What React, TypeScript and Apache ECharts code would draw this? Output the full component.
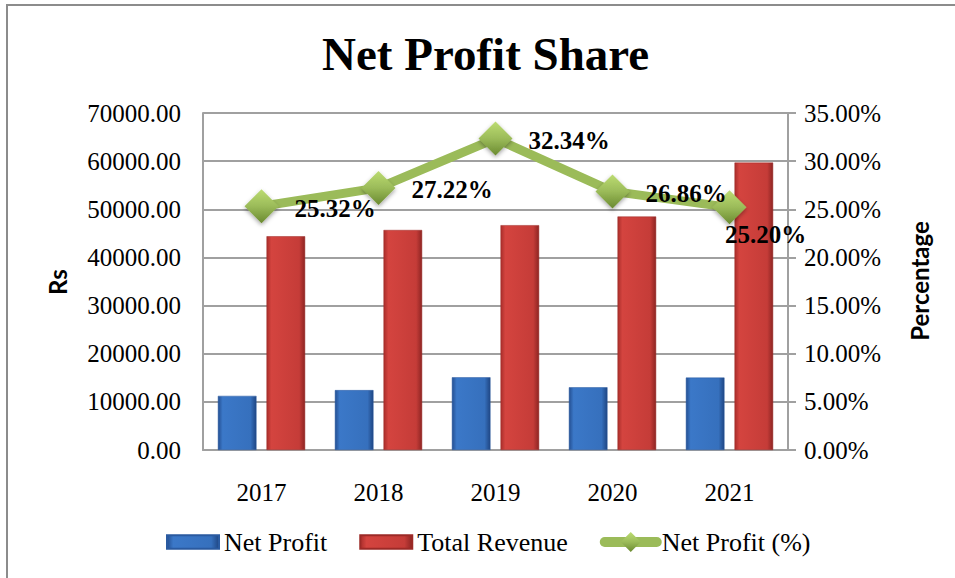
import React, { useEffect, useRef } from "react";
import * as echarts from "echarts";

const years = ["2017", "2018", "2019", "2020", "2021"];
const netProfit = [11240, 12440, 15100, 13030, 15040];
const totalRevenue = [44400, 45700, 46700, 48500, 59700];
const netProfitPct = [25.32, 27.22, 32.34, 26.86, 25.2];
const leftTicks = { min: 0, max: 70000, interval: 10000 };
const rightTicks = { min: 0, max: 35, interval: 5 };

const SERIF = "'Liberation Serif', 'Times New Roman', serif";
const SANS = "Lato, 'Open Sans', sans-serif";
const GRID_COLOR = "#a0a0a0";
const BAR_ICON = "path://M0,0L50,0L50,13L0,13Z";

export default function App() {
  const ref = useRef<HTMLDivElement>(null);

  useEffect(() => {
    document.body.style.margin = "0";
    document.body.style.overflow = "hidden";
    if (!ref.current) return;
    const chart = echarts.init(ref.current, undefined, { renderer: "svg" });

    const blueGrad = new echarts.graphic.LinearGradient(0, 0, 1, 0, [
      { offset: 0, color: "#244f92" },
      { offset: 0.12, color: "#3b78c8" },
      { offset: 0.85, color: "#3670bd" },
      { offset: 1, color: "#1f4683" },
    ]);
    const redGrad = new echarts.graphic.LinearGradient(0, 0, 1, 0, [
      { offset: 0, color: "#a92e2b" },
      { offset: 0.12, color: "#d4443f" },
      { offset: 0.85, color: "#c53c38" },
      { offset: 1, color: "#8e2523" },
    ]);
    const greenGrad = new echarts.graphic.LinearGradient(0, 0, 0, 1, [
      { offset: 0, color: "#bcdc72" },
      { offset: 0.5, color: "#9bbb59" },
      { offset: 1, color: "#6a8a30" },
    ]);

    const option: any = {
      animation: false,
      backgroundColor: "#ffffff",
      textStyle: { fontFamily: SERIF, color: "#000" },
      graphic: [
        {
          type: "rect",
          z: -10,
          shape: { x: 7, y: 5, width: 1000, height: 1000 },
          style: { fill: "none", stroke: "#8c8c8c", lineWidth: 2 },
        },
        {
          type: "text",
          x: 322,
          y: 54,
          style: {
            text: "Net Profit Share",
            font: `bold 47px ${SERIF}`,
            fill: "#000",
            align: "left",
            verticalAlign: "middle",
          },
        },
        {
          type: "text",
          x: 57,
          y: 282,
          rotation: Math.PI / 2,
          style: {
            text: "Rs",
            font: `bold 24px ${SANS}`,
            fill: "#000",
            align: "center",
            verticalAlign: "middle",
          },
        },
        {
          type: "text",
          x: 919,
          y: 281,
          rotation: Math.PI / 2,
          style: {
            text: "Percentage",
            font: `bold 24px ${SANS}`,
            fill: "#000",
            align: "center",
            verticalAlign: "middle",
          },
        },
      ],
      legend: {
        left: 161,
        top: 524,
        itemWidth: 52,
        itemHeight: 25,
        itemGap: 32,
        textStyle: { fontFamily: SERIF, fontSize: 26, color: "#000" },
        data: [
          { name: "Net Profit", icon: BAR_ICON },
          { name: "Total Revenue", icon: BAR_ICON },
          {
            name: "Net Profit (%)",
            lineStyle: { width: 10, color: "#9bbb59", cap: "round" },
          },
        ],
      },
      grid: { left: 203, right: 167, top: 113, bottom: 128 },
      xAxis: {
        type: "category",
        data: years,
        axisLine: { show: true, lineStyle: { color: GRID_COLOR, width: 2 } },
        axisTick: { show: false },
        axisLabel: { fontFamily: SERIF, fontSize: 25, color: "#000", margin: 30 },
      },
      yAxis: [
        {
          type: "value",
          min: leftTicks.min,
          max: leftTicks.max,
          interval: leftTicks.interval,
          axisLine: { show: true, lineStyle: { color: GRID_COLOR, width: 2 } },
          axisTick: { show: false },
          splitLine: { show: true, lineStyle: { color: GRID_COLOR, width: 2 } },
          axisLabel: {
            fontFamily: SERIF,
            fontSize: 25,
            color: "#000",
            margin: 22,
            formatter: (v: number) => v.toFixed(2),
          },
        },
        {
          type: "value",
          min: rightTicks.min,
          max: rightTicks.max,
          interval: rightTicks.interval,
          position: "right",
          axisLine: { show: true, lineStyle: { color: GRID_COLOR, width: 2 } },
          axisTick: { show: true, length: 8, lineStyle: { color: GRID_COLOR, width: 2 } },
          splitLine: { show: false },
          axisLabel: {
            fontFamily: SERIF,
            fontSize: 25,
            color: "#000",
            margin: 16,
            formatter: (v: number) => v.toFixed(2) + "%",
          },
        },
      ],
      series: [
        {
          name: "Net Profit",
          type: "bar",
          yAxisIndex: 0,
          barWidth: "33%",
          barGap: "26%",
          data: netProfit,
          itemStyle: { color: blueGrad, borderColor: "#2a5aa0", borderWidth: 0.5 },
        },
        {
          name: "Total Revenue",
          type: "bar",
          yAxisIndex: 0,
          barWidth: "33%",
          barGap: "26%",
          data: totalRevenue,
          itemStyle: { color: redGrad, borderColor: "#9c2a27", borderWidth: 0.5 },
        },
        {
          name: "Net Profit (%)",
          type: "line",
          yAxisIndex: 1,
          z: 5,
          symbol: "diamond",
          symbolSize: 34,
          lineStyle: { color: "#9bbb59", width: 9 },
          itemStyle: {
            color: greenGrad,
            shadowColor: "rgba(0,0,0,0.35)",
            shadowBlur: 4,
            shadowOffsetY: 2,
          },
          label: {
            show: true,
            position: "right",
            distance: 16,
            offset: [0, 2],
            fontFamily: SERIF,
            fontSize: 25,
            fontWeight: "bold",
            color: "#000",
            formatter: (p: any) => Number(p.value).toFixed(2) + "%",
          },
          data: netProfitPct.map((v, i) =>
            i === netProfitPct.length - 1
              ? { value: v, label: { position: "bottom", distance: 0, offset: [36, -2] } }
              : v
          ),
        },
      ],
    };

    chart.setOption(option);
    return () => chart.dispose();
  }, []);

  return <div ref={ref} style={{ width: 955, height: 578 }} />;
}
